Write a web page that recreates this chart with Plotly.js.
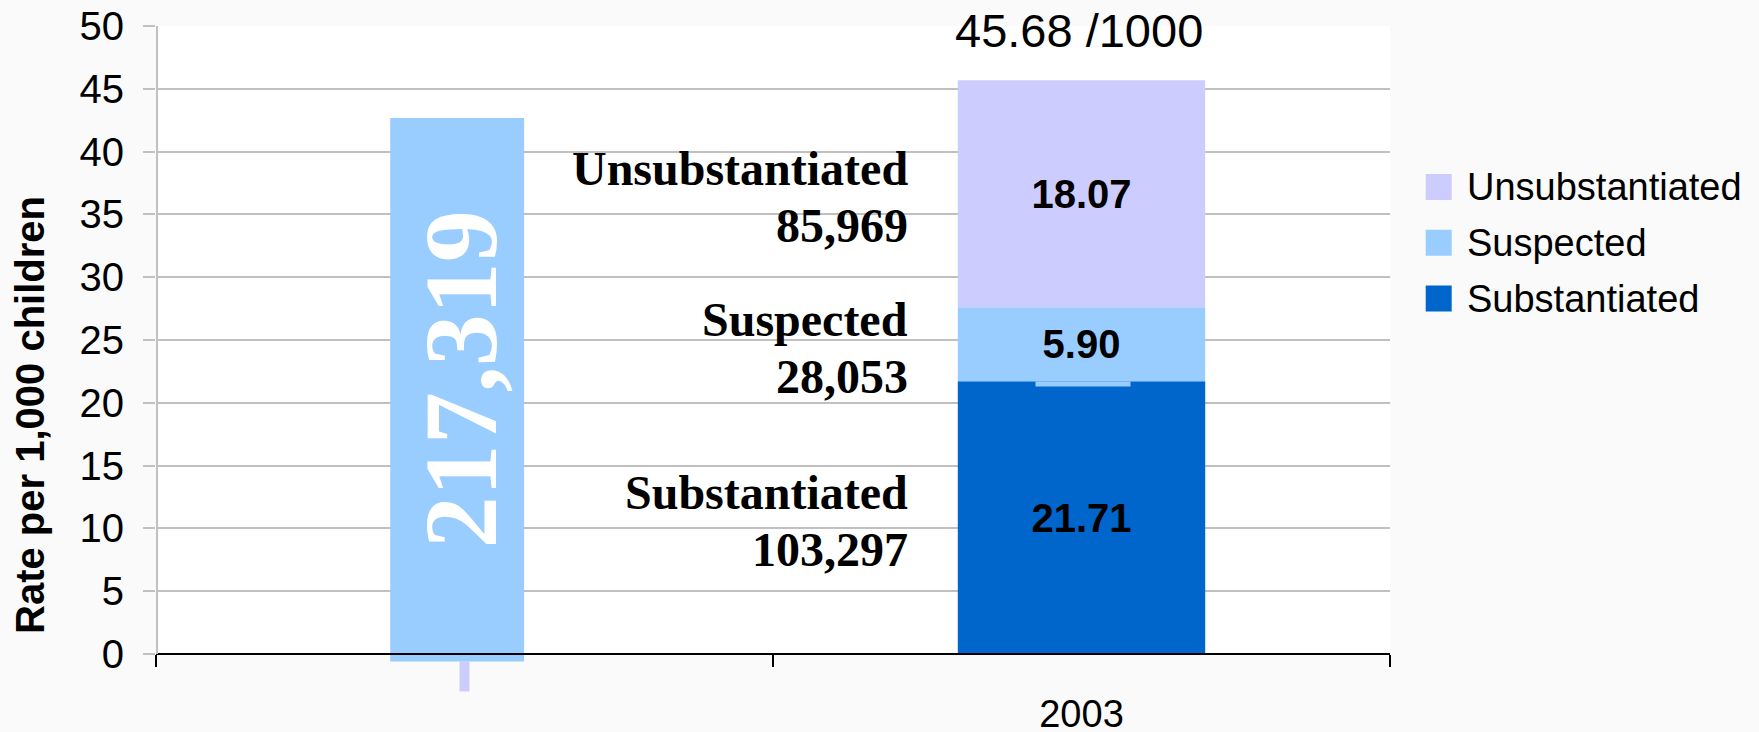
<!DOCTYPE html>
<html><head><meta charset="utf-8">
<script src="https://cdn.plot.ly/plotly-3.0.1.min.js"></script>
<style>html,body{margin:0;padding:0;background:#fafafa;} #chart{width:1759px;height:732px;}</style>
</head><body><div id="chart"></div>
<script>
// ---- data ----
const categories = [' ', '2003'];
const seriesNames = ['Substantiated', 'Suspected', 'Unsubstantiated'];
const substantiated = [null, 21.71];
const suspected = [null, 5.90];
const unsubstantiated = [null, 18.07];
const reportCounts = ['103,297', '28,053', '85,969'];
const totalCount = '217,319';
const totalBoxRange = [-0.61, 42.67];
const totalBoxStem = [-2.99, -0.61];
const yTicks = [0, 5, 10, 15, 20, 25, 30, 35, 40, 45, 50];
const yTitle = 'Rate per 1,000 children';
const rateUnit = ' /1000';

// ---- styles ----
const colors = ['#0066cc', '#99ccff', '#ccccff'];
const SANS = 'Liberation Sans, Arial, sans-serif';
const SERIF = 'Liberation Serif, Times New Roman, serif';
const paperColor = '#fafafa';
const yMin = -4.15, yMax = 50;

const seriesValues = [substantiated, suspected, unsubstantiated];
const ci = 1; // index of the 2003 category
const traces = [];

// total-count box (slide overlay) and its stem
traces.push({
  type: 'bar', x: [categories[0]], y: [totalBoxStem[1] - totalBoxStem[0]], base: [totalBoxStem[0]],
  width: 0.0162, offset: -0.0081, marker: {color: colors[2]}, showlegend: false, hoverinfo: 'skip'
});
traces.push({
  type: 'bar', x: [categories[0]], y: [totalBoxRange[1] - totalBoxRange[0]], base: [totalBoxRange[0]],
  width: 0.217, offset: -0.1204, marker: {color: colors[1]}, showlegend: false, hoverinfo: 'skip'
});

let cum = 0;
const mids = [];
const tops = [];
seriesValues.forEach((vals, i) => {
  const v = vals[ci];
  traces.push({
    type: 'bar', name: seriesNames[i], x: [categories[ci]], y: [v], base: [cum],
    width: 0.401, offset: -0.2005, marker: {color: colors[i]},
    text: [v.toFixed(2)], textposition: 'inside', insidetextanchor: 'middle', textangle: 0,
    insidetextfont: {family: SANS, size: 40, color: '#000', weight: 'bold'},
    showlegend: false, hoverinfo: 'skip'
  });
  mids.push(cum + v / 2);
  cum += v;
  tops.push(cum);
});
const total = cum;

const annotations = [];
// segment name + count labels (left of bar); category axes take the category index
seriesNames.forEach((name, i) => {
  annotations.push({x: ci, y: mids[i], xref: 'x', yref: 'y', text: name, showarrow: false,
    xanchor: 'right', yanchor: 'middle', xshift: -172, yshift: 25,
    font: {family: SERIF, size: 48, color: '#000', weight: 'bold'}});
  annotations.push({x: ci, y: mids[i], xref: 'x', yref: 'y', text: reportCounts[i], showarrow: false,
    xanchor: 'right', yanchor: 'middle', xshift: -172, yshift: -32,
    font: {family: SERIF, size: 48, color: '#000', weight: 'bold'}});
});
// small tab of the "Suspected" label box overlapping the segment below
annotations.push({x: ci, y: tops[0], xref: 'x', yref: 'y', text: ' ', showarrow: false,
  xanchor: 'center', yanchor: 'top', xshift: 1.5, width: 94, height: 4, borderpad: 0,
  bgcolor: colors[1], font: {size: 1}});
// total rate label
annotations.push({x: ci, y: total, xref: 'x', yref: 'y', text: total.toFixed(2) + rateUnit,
  showarrow: false, xanchor: 'center', yanchor: 'middle', yshift: 50, xshift: -3,
  font: {family: SANS, size: 47, color: '#000'}});
// total count inside overlay box
annotations.push({x: 0, y: (totalBoxRange[0] + totalBoxRange[1]) / 2, xref: 'x', yref: 'y',
  text: totalCount, textangle: -90, showarrow: false, xanchor: 'center', yanchor: 'middle', xshift: -4, yshift: 10,
  font: {family: SERIF, size: 104, color: '#fff', weight: 'bold'}});
// y-axis title
annotations.push({x: 0, y: 1, xref: 'paper', yref: 'paper', xshift: -126, yshift: -389,
  text: yTitle, textangle: -90, showarrow: false, xanchor: 'center', yanchor: 'middle',
  font: {family: SANS, size: 40, color: '#000', weight: 'bold'}});

// manual legend (large swatches)
const shapes = [];
const legendOrder = [2, 1, 0];
legendOrder.forEach((si, row) => {
  const top = -148 - row * 55.75;
  shapes.push({type: 'rect', xref: 'paper', yref: 'paper', xsizemode: 'pixel', ysizemode: 'pixel',
    xanchor: 1, yanchor: 1, x0: 35.7, x1: 61.7, y0: top, y1: top - 26,
    fillcolor: colors[si], line: {width: 0}});
  annotations.push({x: 1, y: 1, xref: 'paper', yref: 'paper', xshift: 75, yshift: top - 13,
    text: seriesNames[si], showarrow: false, xanchor: 'left', yanchor: 'middle',
    font: {family: SANS, size: 38, color: '#000'}});
});
// area below zero in slide colour
shapes.push({type: 'rect', xref: 'paper', yref: 'paper', x0: 0, x1: 1, y0: 0, y1: (0 - yMin) / (yMax - yMin),
  fillcolor: paperColor, line: {width: 0}, layer: 'below'});
// value axis line from 0 to 50
shapes.push({type: 'line', xref: 'x', yref: 'y', xsizemode: 'pixel', xanchor: -0.5, x0: 1, x1: 1,
  y0: yTicks[0], y1: yTicks[yTicks.length - 1], line: {color: '#c0c0c0', width: 2}, layer: 'above'});

const layout = {
  width: 1759, height: 732,
  margin: {l: 156, r: 369, t: 26, b: 26},
  paper_bgcolor: paperColor, plot_bgcolor: '#ffffff',
  barmode: 'overlay', showlegend: false, hovermode: false,
  xaxis: {
    type: 'category', categoryorder: 'array', categoryarray: categories, range: [-0.5, 1.5],
    anchor: 'free', position: (0 - yMin) / (yMax - yMin),
    showline: true, linecolor: '#000', linewidth: 2, showgrid: false, zeroline: false,
    ticks: 'outside', tickson: 'boundaries', ticklen: 12, tickwidth: 2, tickcolor: '#000',
    ticklabelstandoff: 27, tickfont: {family: SANS, size: 38, color: '#000'}, automargin: false
  },
  yaxis: {
    range: [yMin, yMax], tickmode: 'array', tickvals: yTicks,
    showgrid: true, gridcolor: '#c0c0c0', gridwidth: 2, zeroline: false, showline: false,
    ticks: 'outside', ticklen: 12, tickwidth: 2, tickcolor: '#c0c0c0',
    ticklabelstandoff: 11, tickfont: {family: SANS, size: 40, color: '#000'}, automargin: false
  },
  annotations: annotations,
  shapes: shapes
};

Plotly.newPlot('chart', traces, layout, {displayModeBar: false, staticPlot: true});
</script>
</body></html>
